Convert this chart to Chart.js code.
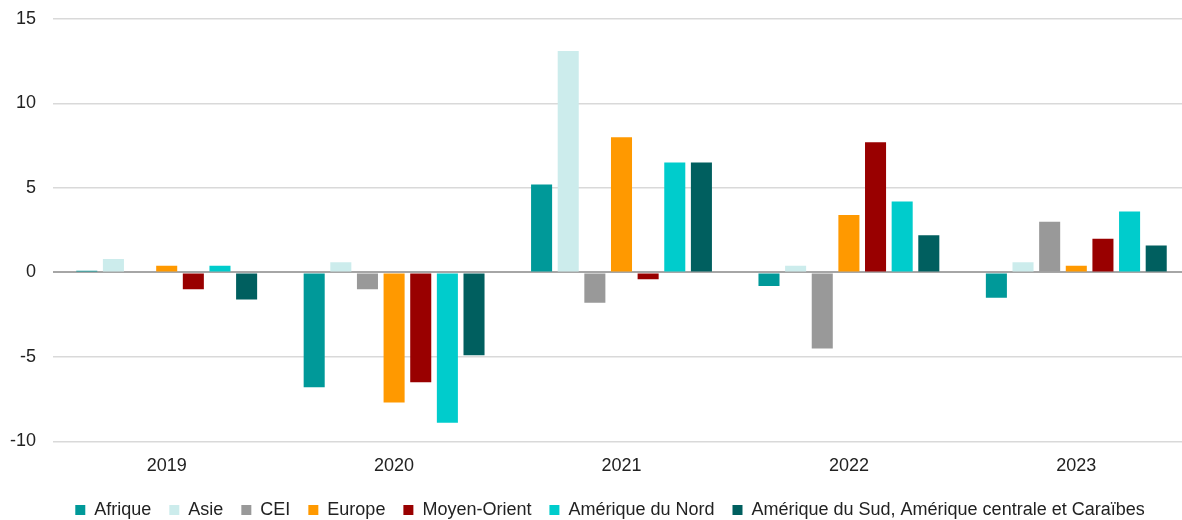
<!DOCTYPE html>
<html>
<head>
<meta charset="utf-8">
<script src="https://cdn.jsdelivr.net/npm/chart.js@4/dist/chart.umd.min.js"></script>
<style>
  html, body { margin: 0; padding: 0; background: #fff; overflow: hidden; }
  #wrap { position: relative; width: 1190px; height: 529px; }
</style>
</head>
<body>
<div id="wrap"><canvas id="c"></canvas></div>
<script>
// Years on the category axis
const years = ['2019', '2020', '2021', '2022', '2023'];

// Annual change by region (%)
const afrique = [0.1, -6.8, 5.2, -0.8, -1.5];
const asie = [0.8, 0.6, 13.1, 0.4, 0.6];
const cei = [0, -1.0, -1.8, -4.5, 3.0];
const europe = [0.4, -7.7, 8.0, 3.4, 0.4];
const moyenOrient = [-1.0, -6.5, -0.4, 7.7, 2.0];
const ameriqueNord = [0.4, -8.9, 6.5, 4.2, 3.6];
const ameriqueSud = [-1.6, -4.9, 6.5, 2.2, 1.6];

// Value axis ticks
const yTicks = [-10, -5, 0, 5, 10, 15];

const seriesNames = ['Afrique', 'Asie', 'CEI', 'Europe', 'Moyen-Orient', 'Amérique du Nord',
  'Amérique du Sud, Amérique centrale et Caraïbes'];
const seriesData = [afrique, asie, cei, europe, moyenOrient, ameriqueNord, ameriqueSud];
const seriesColors = ['#009999', '#CCECEC', '#999999', '#FF9900', '#990000', '#00CCCC', '#005F5F'];

const FONT = 'Liberation Sans, Arial, Helvetica, sans-serif';

// Nudge the legend row a little to the right of the canvas centre
const legendShift = {
  id: 'legendShift',
  afterLayout(chart) {
    if (chart.legend) {
      chart.legend.left += 13;
      chart.legend.right += 13;
    }
  }
};

new Chart(document.getElementById('c'), {
  type: 'bar',
  data: {
    labels: years,
    datasets: seriesNames.map((name, i) => ({
      label: name,
      data: seriesData[i],
      backgroundColor: seriesColors[i],
      borderWidth: 0,
      categoryPercentage: 0.82,
      barPercentage: 0.79
    }))
  },
  plugins: [legendShift],
  options: {
    responsive: true,
    maintainAspectRatio: false,
    animation: false,
    layout: { padding: { left: 4, right: 0, top: 19, bottom: 0 } },
    plugins: {
      tooltip: { enabled: false },
      legend: {
        position: 'bottom',
        labels: {
          boxWidth: 10,
          boxHeight: 10,
          padding: 18,
          color: '#222',
          font: { family: FONT, size: 18 }
        }
      }
    },
    scales: {
      x: {
        grid: { display: false, drawTicks: false },
        border: { display: false },
        afterFit: (axis) => { axis.height -= 8; },
        ticks: { color: '#222', padding: 14, font: { family: FONT, size: 18 } }
      },
      y: {
        min: -10,
        max: 15,
        afterBuildTicks: (axis) => { axis.ticks = yTicks.map(v => ({ value: v })); },
        afterFit: (axis) => {
          axis.width = 49;
          axis.paddingTop = 11;
          axis.paddingBottom = 11;
        },
        grid: {
          drawTicks: false,
          color: (ctx) => ctx.tick && ctx.tick.value === 0 ? '#a6a6a6' : '#d9d9d9',
          lineWidth: (ctx) => ctx.tick && ctx.tick.value === 0 ? 2 : 1.5
        },
        border: { display: false },
        ticks: { color: '#222', padding: 17, font: { family: FONT, size: 18 } }
      }
    }
  }
});
</script>
</body>
</html>
